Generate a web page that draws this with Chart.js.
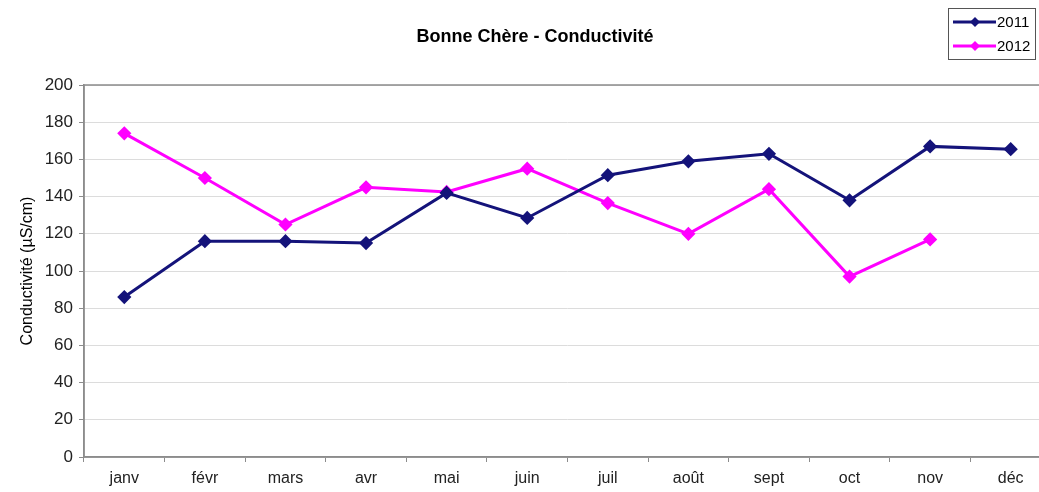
<!DOCTYPE html>
<html>
<head>
<meta charset="utf-8">
<script src="https://cdn.jsdelivr.net/npm/chart.js@4.4.0/dist/chart.umd.min.js"></script>
<style>
  html, body { margin: 0; padding: 0; background: #fff; overflow: hidden; }
  #wrap { width: 1071px; height: 492px; position: relative; }
</style>
</head>
<body>
<div id="wrap"><canvas id="chart"></canvas></div>
<script>
// months and monthly conductivity (µS/cm)
const months = ['janv', 'févr', 'mars', 'avr', 'mai', 'juin', 'juil', 'août', 'sept', 'oct', 'nov', 'déc'];
const values2011 = [86, 116, 116, 115, 142, 128.5, 151.5, 159, 163, 138, 167, 165.5];
const values2012 = [174, 150, 125, 145, 142.5, 155, 136.5, 120, 144, 97, 117, null];
const yTicks = [0, 20, 40, 60, 80, 100, 120, 140, 160, 180, 200];

const titleText = 'Bonne Chère - Conductivité';
const fontName = '"Liberation Sans", Arial, sans-serif';

// title, legend box and plot frame drawn by hand
const decor = {
  id: 'decor',
  afterDraw(chart) {
    const c = chart.ctx;
    const a = chart.chartArea;
    c.save();
    c.strokeStyle = '#8c8c8c';
    c.lineWidth = 1.5;
    c.strokeRect(a.left, a.top, a.right - a.left, a.bottom - a.top);

    c.fillStyle = '#000';
    c.font = 'bold 18px ' + fontName;
    c.textAlign = 'center';
    c.textBaseline = 'middle';
    c.fillText(titleText, 535, 37);

    // legend
    c.strokeStyle = '#555';
    c.lineWidth = 1;
    c.strokeRect(948.5, 8.5, 87, 51);
    c.font = '15px ' + fontName;
    c.textAlign = 'left';
    chart.data.datasets.forEach((ds, i) => {
      const y = 22 + i * 24;
      c.strokeStyle = ds.borderColor;
      c.lineWidth = 3;
      c.beginPath();
      c.moveTo(953, y);
      c.lineTo(996, y);
      c.stroke();
      c.fillStyle = ds.borderColor;
      c.beginPath();
      c.moveTo(975, y - 5);
      c.lineTo(980, y);
      c.lineTo(975, y + 5);
      c.lineTo(970, y);
      c.closePath();
      c.fill();
      c.fillStyle = '#000';
      c.fillText(ds.label, 997, y + 1);
    });
    c.restore();
  }
};

new Chart(document.getElementById('chart'), {
  type: 'line',
  data: {
    labels: months,
    datasets: [
      {
        label: '2011',
        data: values2011,
        borderColor: '#14137a',
        backgroundColor: '#14137a',
        borderWidth: 3,
        pointStyle: 'rectRot',
        pointRadius: 5,
        tension: 0
      },
      {
        label: '2012',
        data: values2012,
        borderColor: '#ff00ff',
        backgroundColor: '#ff00ff',
        borderWidth: 3,
        pointStyle: 'rectRot',
        pointRadius: 5,
        tension: 0
      }
    ]
  },
  options: {
    responsive: true,
    maintainAspectRatio: false,
    animation: false,
    layout: { padding: { top: 85, right: 20, left: 0, bottom: 0 } },
    plugins: {
      legend: { display: false },
      title: { display: false },
      tooltip: { enabled: false }
    },
    scales: {
      x: {
        offset: true,
        grid: {
          offset: true,
          drawOnChartArea: false,
          color: '#8c8c8c',
          tickLength: 5
        },
        border: { color: '#8c8c8c', width: 1.5 },
        ticks: {
          color: '#222',
          font: { family: fontName, size: 16 },
          padding: 7,
          maxRotation: 0,
          autoSkip: false
        },
        afterFit(scale) { scale.height = 35; }
      },
      y: {
        min: 0,
        max: 200,
        afterBuildTicks(scale) { scale.ticks = yTicks.map(v => ({ value: v })); },
        grid: {
          color: '#dcdcdc',
          tickColor: '#8c8c8c',
          tickLength: 5
        },
        border: { color: '#8c8c8c', width: 1.5 },
        ticks: {
          color: '#222',
          font: { family: fontName, size: 17 },
          padding: 6
        },
        title: {
          display: true,
          text: 'Conductivité (µS/cm)',
          color: '#000',
          font: { family: fontName, size: 16 },
          padding: { top: 18, bottom: 0 }
        },
        afterFit(scale) { scale.width = 84; }
      }
    }
  },
  plugins: [decor]
});
</script>
</body>
</html>
